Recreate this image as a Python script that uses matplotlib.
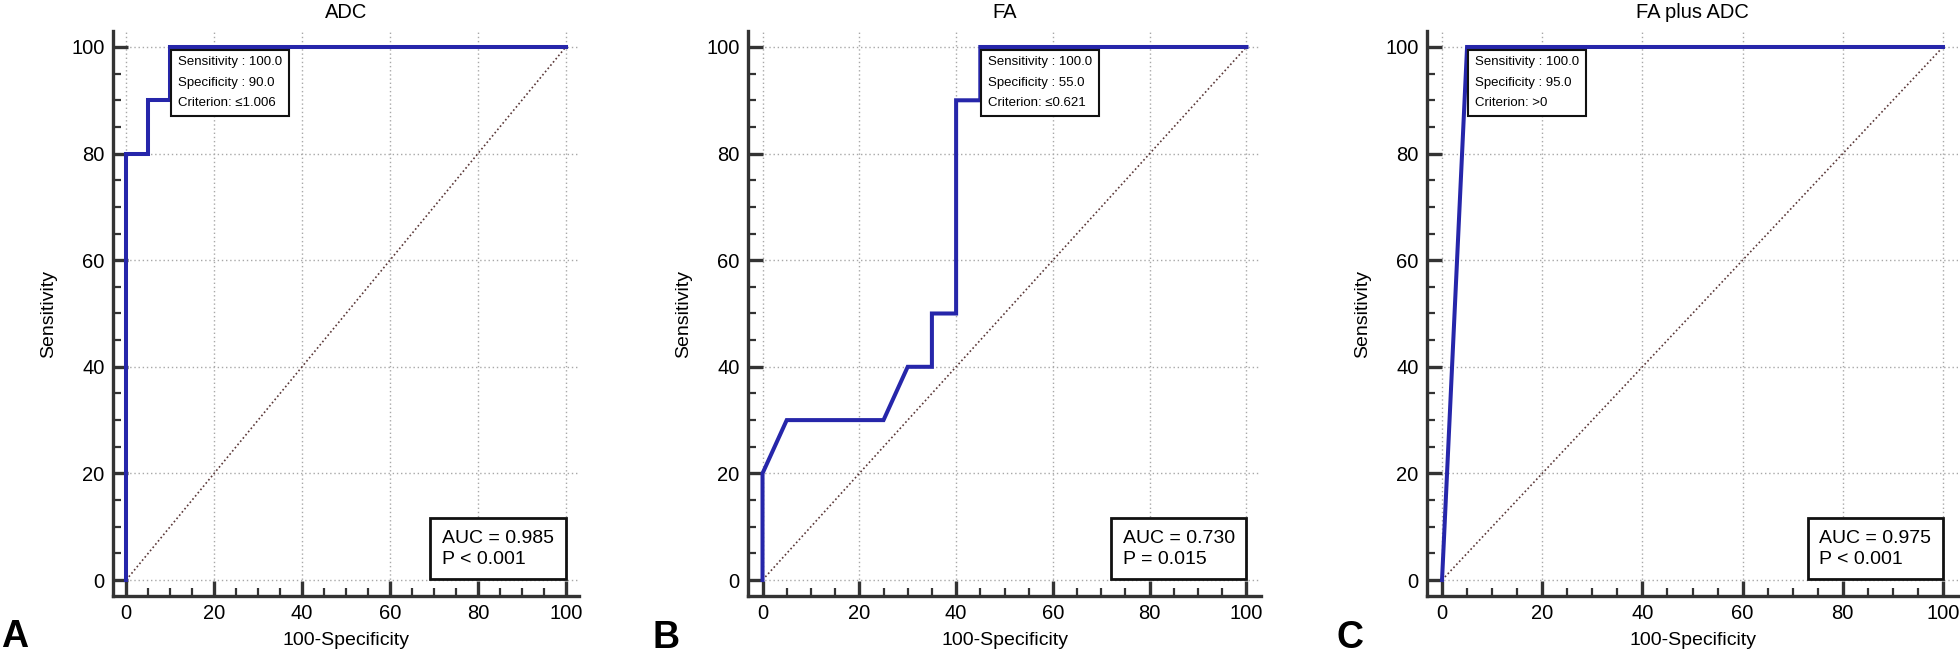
import matplotlib
matplotlib.use("Agg")
import matplotlib.pyplot as plt
from matplotlib.ticker import MultipleLocator
from matplotlib import font_manager as fm

# ---- data ----
titles = ["ADC", "FA", "FA plus ADC"]
panel_letters = ["A", "B", "C"]

adc_fpr = [0, 0, 5, 5, 10, 10, 100]
adc_tpr = [0, 80, 80, 90, 90, 100, 100]
fa_fpr = [0, 0, 5, 25, 30, 35, 35, 40, 40, 45, 45, 100]
fa_tpr = [0, 20, 30, 30, 40, 40, 50, 50, 90, 90, 100, 100]
combo_fpr = [0, 5, 100]
combo_tpr = [0, 100, 100]

sensitivity = [100.0, 100.0, 100.0]
specificity = [90.0, 55.0, 95.0]
criterion = ["\u22641.006", "\u22640.621", ">0"]
auc_values = ["0.985", "0.730", "0.975"]
p_values = ["P < 0.001", "P = 0.015", "P < 0.001"]

curves = [(adc_fpr, adc_tpr), (fa_fpr, fa_tpr), (combo_fpr, combo_tpr)]

# ---- style ----
plt.rcParams["font.family"] = ["Liberation Sans", "DejaVu Sans"]
available = {f.name for f in fm.fontManager.ttflist}
narrow = [n for n in ["Liberation Sans Narrow", "DejaVu Sans Condensed"] if n in available]
box_family = narrow + ["Liberation Sans", "DejaVu Sans"]

W, H = 1960, 658
fig = plt.figure(figsize=(W / 100, H / 100), dpi=100)

axes_px = [(113, 579), (748, 1261), (1427, 1958)]
bottom_px, top_px = 596, 31

line_color = "#2626aa"
spine_color = "#333333"

for i, (x0, x1) in enumerate(axes_px):
    ax = fig.add_axes([x0 / W, 1 - bottom_px / H, (x1 - x0) / W, (bottom_px - top_px) / H])
    fpr, tpr = curves[i]
    ax.set_xlim(-3, 103)
    ax.set_ylim(-3, 103)
    ax.xaxis.set_major_locator(MultipleLocator(20))
    ax.yaxis.set_major_locator(MultipleLocator(20))
    ax.xaxis.set_minor_locator(MultipleLocator(5))
    ax.yaxis.set_minor_locator(MultipleLocator(5))
    ax.grid(True, which="major", linestyle=(0, (1, 2)), color="#a8a8a8", linewidth=1.0, zorder=0)
    ax.set_axisbelow(True)
    for s in ("top", "right"):
        ax.spines[s].set_visible(False)
    for s in ("left", "bottom"):
        ax.spines[s].set_color(spine_color)
        ax.spines[s].set_linewidth(2.4)
    ax.tick_params(which="major", direction="in", length=10.8, width=2.4, color=spine_color,
                   labelsize=14.5, pad=6, top=False, right=False)
    ax.tick_params(which="minor", direction="in", length=5.5, width=1.6, color=spine_color,
                   top=False, right=False)

    # diagonal reference
    ax.plot([0, 100], [0, 100], linestyle=(0, (1, 1.5)), color="#5a3838", linewidth=1.2, zorder=2)
    # ROC curve
    ax.plot(fpr, tpr, color=line_color, linewidth=2.9, zorder=3, solid_joinstyle="miter")

    ax.set_title(titles[i], fontsize=14.5, pad=9)
    ax.set_xlabel("100-Specificity", fontsize=14, labelpad=6)
    ax.set_ylabel("Sensitivity", fontsize=14, labelpad=10)

    # criterion box anchored (top-left corner) at the operating point
    px, py = 100 - specificity[i], sensitivity[i]
    crit_txt = (f"Sensitivity : {sensitivity[i]:.1f}\n"
                f"Specificity : {specificity[i]:.1f}\n"
                f"Criterion: {criterion[i]}")
    cfs = 9.5
    cpad = 0.5
    ax.annotate(crit_txt, xy=(px, py), xycoords="data",
                xytext=(cpad * cfs + 0.8, -cpad * cfs - 2.0),
                textcoords="offset points", ha="left", va="top", fontsize=cfs,
                family=box_family, linespacing=1.95, zorder=5,
                bbox=dict(boxstyle=f"square,pad={cpad}", facecolor="white",
                          edgecolor="#111111", linewidth=1.5))

    # AUC box anchored (bottom-right corner) at (100, 0)
    auc_txt = f"AUC = {auc_values[i]}\n{p_values[i]}"
    afs = 14
    apad = 0.6
    ax.annotate(auc_txt, xy=(100, 0), xycoords="data",
                xytext=(-apad * afs, apad * afs + 0.5),
                textcoords="offset points", ha="right", va="bottom", fontsize=afs,
                multialignment="left", linespacing=1.3, zorder=5,
                bbox=dict(boxstyle=f"square,pad={apad}", facecolor="white",
                          edgecolor="#111111", linewidth=2.0))

letter_px = [(15, 637), (666, 638), (1350, 638)]
for (lx, ly), letter in zip(letter_px, panel_letters):
    fig.text(lx / W, 1 - ly / H, letter, fontsize=27, fontweight="bold",
             ha="center", va="center")

fig.savefig("out.png", dpi=100)
